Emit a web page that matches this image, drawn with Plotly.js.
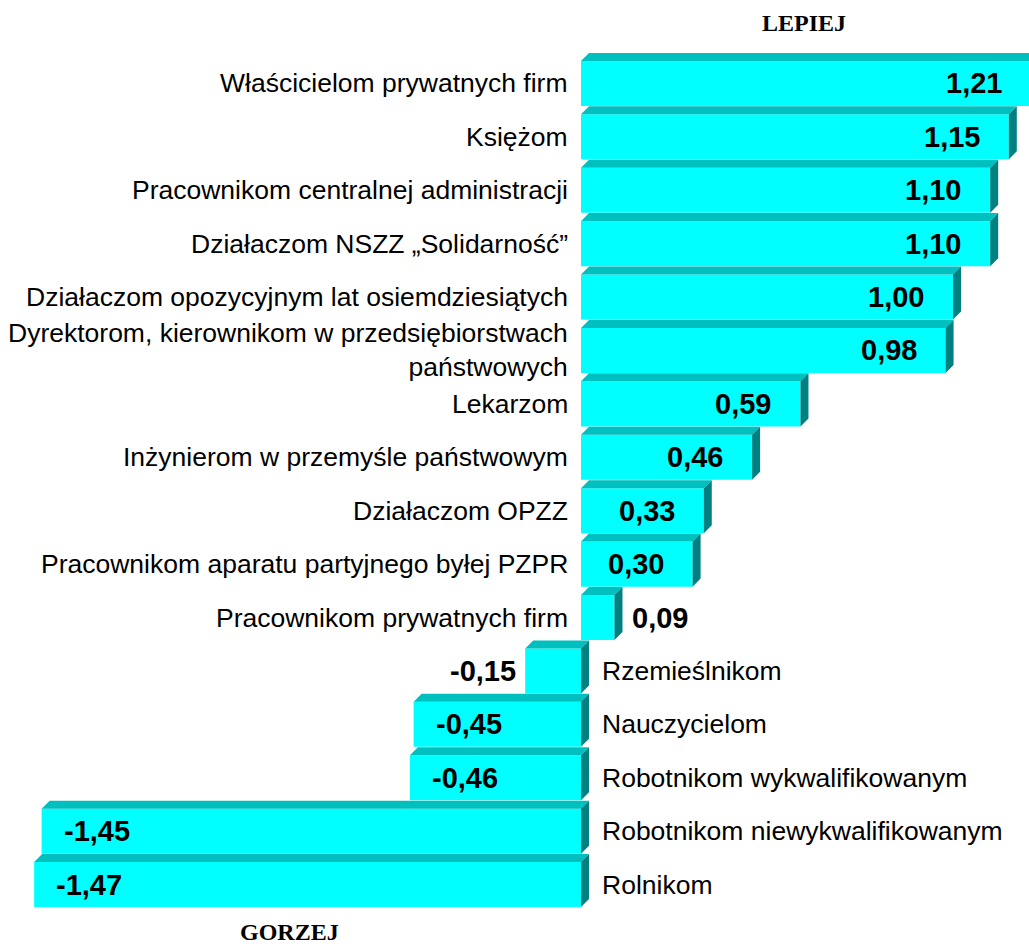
<!DOCTYPE html>
<html>
<head>
<meta charset="utf-8">
<script src="https://cdn.plot.ly/plotly-3.0.1.min.js"></script>
<style>html,body{margin:0;padding:0;background:#fff;}#chart{width:1029px;height:950px;}</style>
</head>
<body>
<div id="chart"></div>
<script>
const categories = [
  'Właścicielom prywatnych firm',
  'Księżom',
  'Pracownikom centralnej administracji',
  'Działaczom NSZZ „Solidarność”',
  'Działaczom opozycyjnym lat osiemdziesiątych',
  'Dyrektorom, kierownikom w przedsiębiorstwach<br>państwowych',
  'Lekarzom',
  'Inżynierom w przemyśle państwowym',
  'Działaczom OPZZ',
  'Pracownikom aparatu partyjnego byłej PZPR',
  'Pracownikom prywatnych firm',
  'Rzemieślnikom',
  'Nauczycielom',
  'Robotnikom wykwalifikowanym',
  'Robotnikom niewykwalifikowanym',
  'Rolnikom'
];
const values = [1.21, 1.15, 1.10, 1.10, 1.00, 0.98, 0.59, 0.46, 0.33, 0.30, 0.09, -0.15, -0.45, -0.46, -1.45, -1.47];
const valueLabels = ['1,21','1,15','1,10','1,10','1,00','0,98','0,59','0,46','0,33','0,30','0,09','-0,15','-0,45','-0,46','-1,45','-1,47'];
const topLabel = 'LEPIEJ';
const bottomLabel = 'GORZEJ';

// pixel scale of the value axis: 372 px per unit, zero at x=581
const PX_PER_UNIT = 372;
const ZERO_PX = 581;
// geometry of the pseudo-3D bars (in axis units)
const BAR_W = 0.843;
const DEPTH_X = 8 / PX_PER_UNIT;
const DEPTH_Y = 0.15;

const idx = values.map((_, i) => i);
const topX = [], topY = [], sideX = [], sideY = [];
values.forEach((v, i) => {
  const x0 = Math.min(0, v), x1 = Math.max(0, v);
  const yt = i - BAR_W / 2, yb = i + BAR_W / 2;
  topX.push(x0, x0 + DEPTH_X, x1 + DEPTH_X, x1, x0, null);
  topY.push(yt, yt - DEPTH_Y, yt - DEPTH_Y, yt, yt, null);
  sideX.push(x1, x1 + DEPTH_X, x1 + DEPTH_X, x1, x1, null);
  sideY.push(yt, yt - DEPTH_Y, yb - DEPTH_Y, yb, yt, null);
});

const traces = [
  {type: 'scatter', mode: 'lines', x: topX, y: topY, fill: 'toself', fillcolor: '#00BFBF',
   line: {width: 0, color: '#00BFBF'}, hoverinfo: 'skip'},
  {type: 'scatter', mode: 'lines', x: sideX, y: sideY, fill: 'toself', fillcolor: '#008080',
   line: {width: 0, color: '#008080'}, hoverinfo: 'skip'},
  {type: 'bar', orientation: 'h', x: values, y: idx, width: BAR_W,
   marker: {color: '#00FFFF', line: {width: 0}}, hoverinfo: 'skip'}
];

const catFont = {family: 'Liberation Sans, Arial, sans-serif', size: 26.5, color: '#000'};
const valFont = {family: 'Liberation Sans, Arial, sans-serif', size: 29, color: '#000'};
const annotations = [];
values.forEach((v, i) => {
  annotations.push({
    x: 0, y: i, xref: 'x', yref: 'y', text: categories[i], showarrow: false,
    xanchor: v >= 0 ? 'right' : 'left', xshift: v >= 0 ? -11 : 19,
    align: v >= 0 ? 'right' : 'left', yanchor: 'middle', font: catFont
  });
  const outside = Math.abs(v) < 0.2;
  let xanchor, padPx;
  if (v >= 0) { xanchor = outside ? 'left' : 'right'; padPx = outside ? 16 : -27; }
  else { xanchor = outside ? 'right' : 'left'; padPx = outside ? -7 : 20; }
  annotations.push({
    x: v + padPx / PX_PER_UNIT, y: i, xref: 'x', yref: 'y', text: '<b>' + valueLabels[i] + '</b>',
    showarrow: false, xanchor: xanchor, yanchor: 'middle', font: valFont
  });
});
const titleFont = {family: 'Liberation Serif, Times New Roman, serif', size: 24, color: '#000'};
annotations.push({xref: 'paper', yref: 'paper', x: 0.7813, y: 1.0072, text: '<b>' + topLabel + '</b>',
  showarrow: false, xanchor: 'center', yanchor: 'middle', font: titleFont});
annotations.push({xref: 'paper', yref: 'paper', x: 0.2818, y: 0.0066, text: '<b>' + bottomLabel + '</b>',
  showarrow: false, xanchor: 'center', yanchor: 'middle', font: titleFont});

const layout = {
  width: 1029, height: 950,
  margin: {l: 0, r: 0, t: 30, b: 12, pad: 0},
  paper_bgcolor: '#fff', plot_bgcolor: '#fff',
  showlegend: false,
  xaxis: {range: [-ZERO_PX / PX_PER_UNIT, (1029 - ZERO_PX) / PX_PER_UNIT], visible: false, fixedrange: true},
  yaxis: {range: [16, -1], visible: false, fixedrange: true},
  annotations: annotations
};

Plotly.newPlot('chart', traces, layout, {displayModeBar: false, staticPlot: true});
</script>
</body>
</html>
